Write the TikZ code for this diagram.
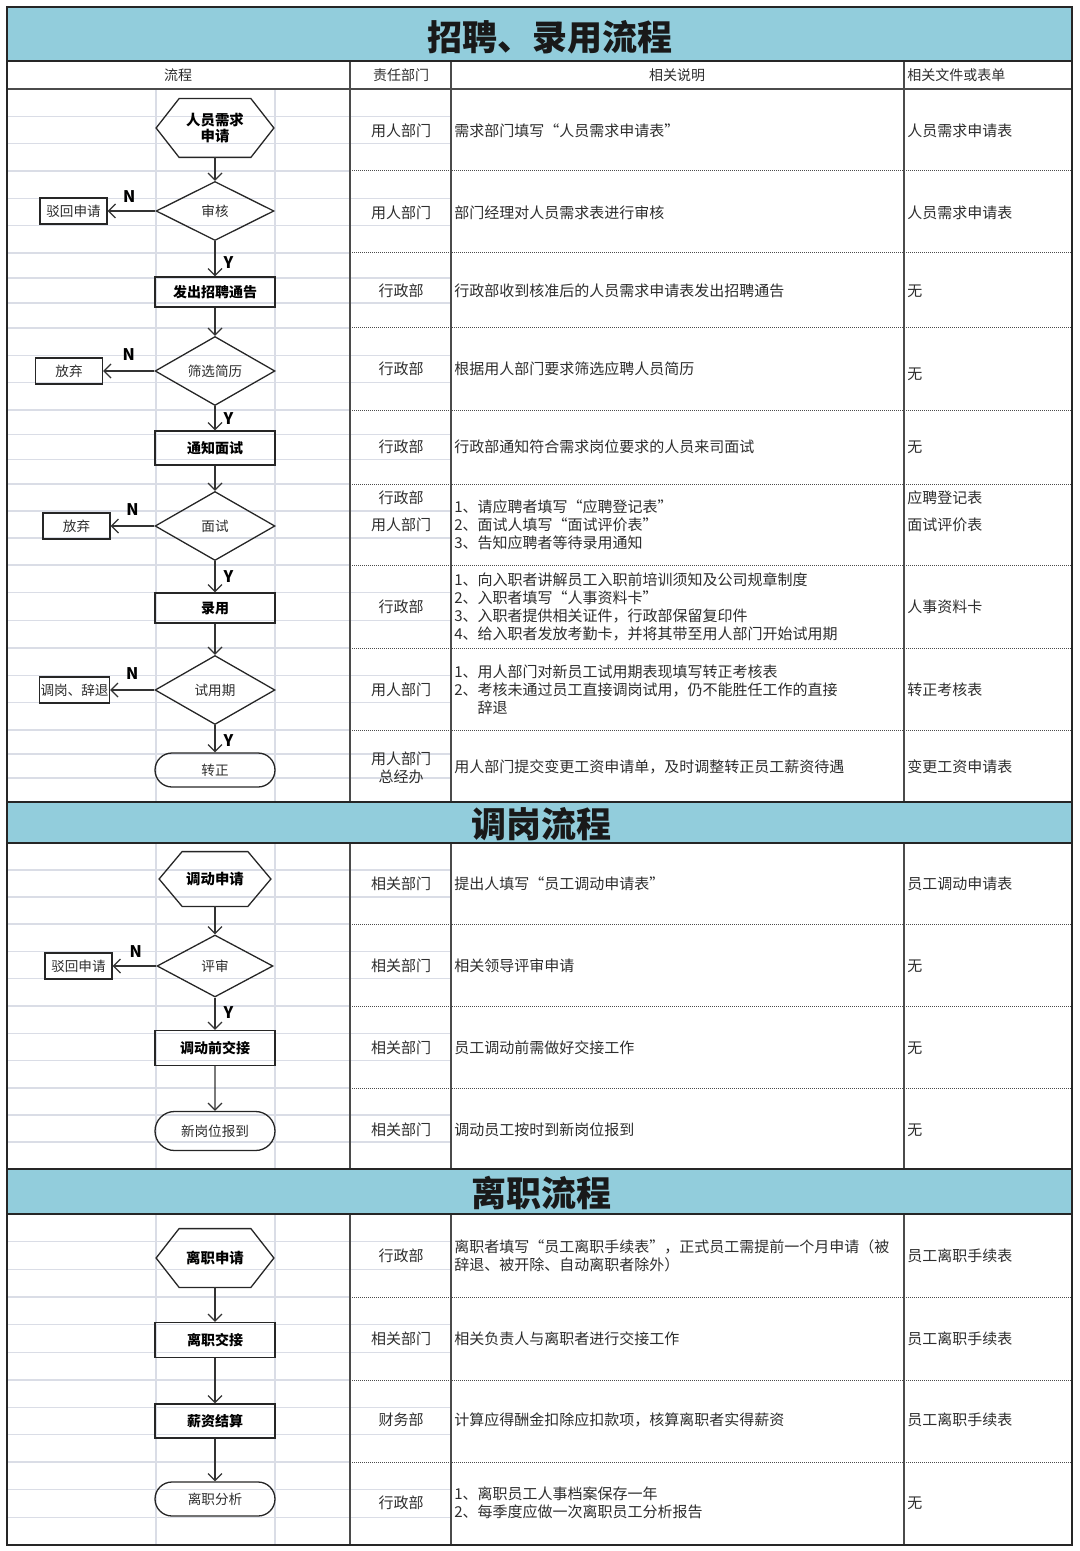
\documentclass[tikz,border=0pt]{standalone}
\usepackage{fontspec}
\setmainfont{Noto Sans CJK SC}
\usetikzlibrary{arrows.meta}
\usetikzlibrary{positioning}
\usetikzlibrary{shapes.geometric,shapes.misc}
\definecolor{titlebar}{RGB}{146,205,220}
\definecolor{gridgray}{RGB}{218,221,230}
\definecolor{rulegray}{RGB}{75,75,75}
\definecolor{textgray}{RGB}{45,45,45}
\tikzset{
  flowline/.style={line width=0.6pt, draw=black!80,
    -{Straight Barb[length=3.5pt,width=7pt,line width=0.6pt]}},
  shapeline/.style={draw=black!85, line width=0.65pt},
  procbox/.style={shapeline, rectangle,
    minimum width=60pt, minimum height=17pt, inner sep=1pt,
    font=\fontsize{7}{8}\selectfont\bfseries},
  sidebox/.style={shapeline, rectangle,
    minimum width=33.5pt, minimum height=13pt, inner sep=0.5pt,
    font=\fontsize{6.8}{8}\selectfont, text=textgray},
  decision/.style={shapeline, diamond, aspect=2,
    minimum width=60pt, minimum height=34.5pt, inner sep=0pt,
    font=\fontsize{6.8}{8}\selectfont, text=textgray},
  terminal/.style={shapeline, rounded rectangle,
    minimum width=60pt, minimum height=17pt, inner sep=0pt,
    font=\fontsize{6.8}{8}\selectfont, text=textgray},
  hexbox/.style={minimum width=58.5pt, minimum height=29pt, inner sep=0pt,
    font=\fontsize{7.2}{8}\selectfont\bfseries, align=center,
    append after command={
      \pgfextra{
        \draw[shapeline] (\tikzlastnode.west)
          -- ([xshift=11.5pt]\tikzlastnode.north west)
          -- ([xshift=-11.5pt]\tikzlastnode.north east)
          -- (\tikzlastnode.east)
          -- ([xshift=-11.5pt]\tikzlastnode.south east)
          -- ([xshift=11.5pt]\tikzlastnode.south west) -- cycle;
      }
    }
  },
  yn/.style={font=\fontsize{8}{8}\selectfont\bfseries, inner sep=0pt},
  gridline/.style={draw=gridgray, line width=0.6pt},
  rowline/.style={draw=rulegray, line width=0.5pt, dash pattern=on 0.5pt off 0.5pt},
  colline/.style={draw=rulegray, line width=0.75pt},
  frameline/.style={draw=black!85, line width=0.8pt},
  dept/.style={font=\fontsize{7.5}{9}\selectfont, text=textgray, align=center, inner sep=0pt},
  note/.style={font=\fontsize{7.5}{9}\selectfont, text=textgray, align=left, anchor=west, inner sep=0pt},
  doc/.style={font=\fontsize{7.5}{9}\selectfont, text=textgray, anchor=west, inner sep=0pt},
  heading/.style={font=\fontsize{17.5}{18}\selectfont\bfseries, text=black!90, inner sep=0pt},
  colhead/.style={font=\fontsize{7}{8}\selectfont, text=textgray, inner sep=0pt},
}

\begin{document}
\begin{tikzpicture}[x=0.5pt,y=-0.5pt]
  \useasboundingbox (0,0) rectangle (1080,1551);

  % title bars
  \foreach \t/\b in {7/61, 802/843, 1169/1214} {
    \fill[titlebar] (7,\t) rectangle (1072,\b);
  }
  % sheet grid
  \foreach \a/\b in {89/171,171/253,253/328,328/410,410/484,484/565,565/648,648/730,730/802,
                     843/924,924/1006,1006/1088,1088/1169,
                     1214/1297,1297/1380,1380/1462,1462/1545} {
    \draw[gridline] (7,{\a+(\b-\a)/3}) -- (451,{\a+(\b-\a)/3});
    \draw[gridline] (7,{\a+2*(\b-\a)/3}) -- (451,{\a+2*(\b-\a)/3});
    \draw[gridline] (7,\b) -- (350,\b);
  }
  \foreach \t/\b in {89/802, 843/1169, 1214/1545} {
    \draw[gridline] (156,\t) -- (156,\b);
    \draw[gridline] (275,\t) -- (275,\b);
  }
  % table rules
  \foreach \y in {171,253,328,410,484,565,648,730,924,1006,1088,1297,1380,1462} {
    \draw[rowline] (350,\y) -- (1072,\y);
  }
  \foreach \t/\b in {61/802, 843/1169, 1214/1545} {
    \foreach \x in {350,451,904} {
      \draw[colline] (\x,\t) -- (\x,\b);
    }
  }
  \draw[colline] (7,89) -- (1072,89);
  \draw[frameline] (7,61) -- (1072,61);
  \draw[frameline] (7,802) -- (1072,802) (7,843) -- (1072,843);
  \draw[frameline] (7,1169) -- (1072,1169) (7,1214) -- (1072,1214);
  \draw[frameline, line width=1pt] (7,7) rectangle (1072,1545);

  % headings
  \node (h1) [heading] at (550,37) {招聘、录用流程};
  \node (h2) [heading] at (541,824) {调岗流程};
  \node (h3) [heading] at (541,1193) {离职流程};
  \node (ch1) [colhead] at (178,75) {流程};
  \node (ch2) [colhead] at (401,75) {责任部门};
  \node (ch3) [colhead] at (677,75) {相关说明};
  \node (ch4) [colhead, anchor=west] at (907,75) {相关文件或表单};

  % recruitment flow
  \node (req)   [hexbox] at (215,128) {人员需求\\申请};
  \node (chk)   [decision, minimum width=59pt, minimum height=29.5pt] at (215,211) {审核};
  \node (rej1)  [sidebox] at (73.5,211) {驳回申请};
  \node (ann)   [procbox, minimum height=15pt] at (215,292) {发出招聘通告};
  \node (scr)   [decision] at (215,371) {筛选简历};
  \node (quit1) [sidebox] at (69,371) {放弃};
  \node (notif) [procbox] at (215,448) {通知面试};
  \node (itv)   [decision] at (215,526) {面试};
  \node (quit2) [sidebox] at (76.5,526) {放弃};
  \node (hire)  [procbox, minimum height=15pt] at (215,608) {录用};
  \node (prob)  [decision] at (215,690) {试用期};
  \node (move)  [sidebox] at (74.5,690) {调岗、辞退};
  \node (conf)  [terminal] at (215,770) {转正};

  \draw[flowline] (req) -- (chk);
  \draw[flowline] (chk) -- node (n1) [yn, above=4pt, pos=0.55] {N} (rej1);
  \draw[flowline] (chk) -- node (y1) [yn, right=4pt, pos=0.6] {Y} (ann);
  \draw[flowline] (ann) -- (scr);
  \draw[flowline] (scr) -- node (n2) [yn, above=5pt, pos=0.5] {N} (quit1);
  \draw[flowline] (scr) -- node (y2) [yn, right=4pt, pos=0.5] {Y} (notif);
  \draw[flowline] (notif) -- (itv);
  \draw[flowline] (itv) -- node (n3) [yn, above=5pt, pos=0.5] {N} (quit2);
  \draw[flowline] (itv) -- node (y3) [yn, right=4pt, pos=0.5] {Y} (hire);
  \draw[flowline] (hire) -- (prob);
  \draw[flowline] (prob) -- node (n4) [yn, above=5pt, pos=0.5] {N} (move);
  \draw[flowline] (prob) -- node (y4) [yn, right=4pt, pos=0.55] {Y} (conf);

  % transfer flow
  \node (tapp) [hexbox, minimum width=55.5pt, minimum height=27pt] at (215,879) {调动申请};
  \node (rev)  [decision, minimum width=58pt, minimum height=31pt] at (215,966) {评审};
  \node (rej2) [sidebox] at (78.5,966) {驳回申请};
  \node (hand) [procbox, minimum height=17.5pt] at (215,1048) {调动前交接};
  \node (newp) [terminal, minimum height=19.5pt] at (215,1131) {新岗位报到};

  \draw[flowline] (tapp) -- (rev);
  \draw[flowline] (rev) -- node (n5) [yn, above=4pt, pos=0.47] {N} (rej2);
  \draw[flowline] (rev) -- node (y5) [yn, right=4pt, pos=0.47] {Y} (hand);
  \draw[flowline] (hand) -- (newp);

  % leaving flow
  \node (lapp)  [hexbox] at (215,1258) {离职申请};
  \node (lhand) [procbox, minimum height=17.5pt] at (215,1340) {离职交接};
  \node (pay)   [procbox] at (215,1421) {薪资结算};
  \node (lana)  [terminal] at (215,1499) {离职分析};

  \draw[flowline] (lapp) -- (lhand);
  \draw[flowline] (lhand) -- (pay);
  \draw[flowline] (pay) -- (lana);

  % responsible department
  \foreach \y/\txt [count=\i] in {131/用人部门, 213/用人部门, 291/行政部, 369/行政部,
      447/行政部, 498/行政部, 525/用人部门, 607/行政部, 690/用人部门,
      884/相关部门, 966/相关部门, 1048/相关部门, 1130/相关部门,
      1256/行政部, 1339/相关部门, 1420/财务部, 1503/行政部} {
    \node (dept\i) [dept] at (401,\y) {\txt};
  }
  \node (dept0) [dept] at (401,768) {用人部门\\总经办};

  % notes
  \node (note1)  [note] at (454,131) {需求部门填写“人员需求申请表”};
  \node (note2)  [note] at (454,213) {部门经理对人员需求表进行审核};
  \node (note3)  [note] at (454,291) {行政部收到核准后的人员需求申请表发出招聘通告};
  \node (note4)  [note] at (454,369) {根据用人部门要求筛选应聘人员简历};
  \node (note5)  [note] at (454,447) {行政部通知符合需求岗位要求的人员来司面试};
  \node (note6)  [note] at (454,525) {1、请应聘者填写“应聘登记表”\\2、面试人填写“面试评价表”\\3、告知应聘者等待录用通知};
  \node (note7)  [note] at (454,607) {1、向入职者讲解员工入职前培训须知及公司规章制度\\2、入职者填写“人事资料卡”\\3、入职者提供相关证件，行政部保留复印件\\4、给入职者发放考勤卡，并将其带至用人部门开始试用期};
  \node (note8)  [note] at (454,690) {1、用人部门对新员工试用期表现填写转正考核表\\2、考核未通过员工直接调岗试用，仍不能胜任工作的直接\\\phantom{2、}辞退};
  \node (note9)  [note] at (454,767) {用人部门提交变更工资申请单，及时调整转正员工薪资待遇};
  \node (note10) [note] at (454,884) {提出人填写“员工调动申请表”};
  \node (note11) [note] at (454,966) {相关领导评审申请};
  \node (note12) [note] at (454,1048) {员工调动前需做好交接工作};
  \node (note13) [note] at (454,1130) {调动员工按时到新岗位报到};
  \node (note14) [note] at (454,1256) {离职者填写“员工离职手续表”，正式员工需提前一个月申请（被\\辞退、被开除、自动离职者除外）};
  \node (note15) [note] at (454,1339) {相关负责人与离职者进行交接工作};
  \node (note16) [note] at (454,1420) {计算应得酬金扣除应扣款项，核算离职者实得薪资};
  \node (note17) [note] at (454,1503) {1、离职员工人事档案保存一年\\2、每季度应做一次离职员工分析报告};

  % forms
  \foreach \y/\txt [count=\i] in {131/人员需求申请表, 213/人员需求申请表, 291/无, 374/无,
      447/无, 498/应聘登记表, 525/面试评价表, 607/人事资料卡, 690/转正考核表,
      767/变更工资申请表, 884/员工调动申请表, 966/无, 1048/无, 1130/无,
      1256/员工离职手续表, 1339/员工离职手续表, 1420/员工离职手续表, 1503/无} {
    \node (doc\i) [doc] at (907,\y) {\txt};
  }
\end{tikzpicture}
\end{document}
